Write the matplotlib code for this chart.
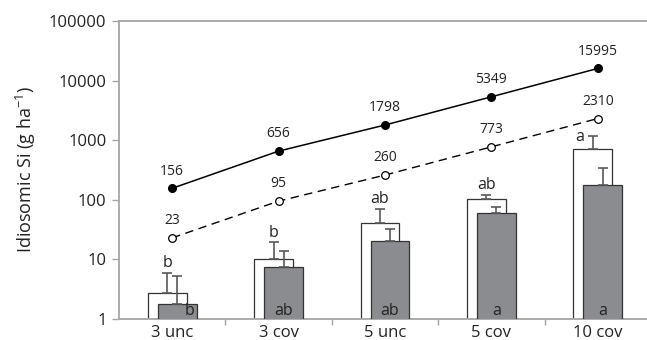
import matplotlib
matplotlib.use("Agg")
import matplotlib.pyplot as plt
import numpy as np

plt.rcParams['font.family'] = ['Open Sans', 'DejaVu Sans']

categories = ["3 unc", "3 cov", "5 unc", "5 cov", "10 cov"]
white_vals = [2.7, 10.1, 41, 105, 708]
white_err = [3.3, 9.4, 30, 17, 467]
gray_vals = [1.77, 7.4, 20.3, 60, 180]
gray_err = [3.5, 6.4, 11.6, 16, 164]
line_solid = [156, 656, 1798, 5349, 15995]
line_dashed = [23, 95, 260, 773, 2310]
white_letters = ["b", "b", "ab", "ab", "a"]
gray_letters = ["b", "ab", "ab", "a", "a"]
yticks = [1, 10, 100, 1000, 10000, 100000]

fig = plt.figure(figsize=(6.47, 3.40), dpi=100)
ax = fig.add_axes([119/647, 21/340, 532/647, 298/340])

x = np.arange(len(categories))
w = 0.365
off = 0.047
spine_c = '#a6a6a6'
err_c = '#595959'

ax.bar(x - off, white_vals, width=w, color='white', edgecolor='#333333', linewidth=0.9, zorder=2)
ax.errorbar(x - off, white_vals, yerr=[np.zeros(len(x)), white_err], fmt='none',
            ecolor=err_c, elinewidth=1.2, capsize=3.5, capthick=1.2, zorder=2.5)
ax.bar(x + off, gray_vals, width=w, color='#8b8c8f', edgecolor='#333333', linewidth=0.9, zorder=3)
ax.errorbar(x + off, gray_vals, yerr=[np.zeros(len(x)), gray_err], fmt='none',
            ecolor=err_c, elinewidth=1.2, capsize=3.5, capthick=1.2, zorder=3.5)

ax.plot(x, line_solid, '-', color='black', lw=1.1, marker='o', ms=5.5,
        mfc='black', mec='black', zorder=4)
ax.plot(x, line_dashed, '--', color='black', lw=1.0, dashes=(6, 4), marker='o', ms=5.5,
        mfc='white', mec='black', mew=0.9, zorder=4)

for xi, v in zip(x, line_solid):
    ax.annotate(str(v), (xi, v), xytext=(0, 7), textcoords='offset points',
                ha='center', va='bottom', fontsize=10, color='#222222')
for xi, v in zip(x, line_dashed):
    ax.annotate(str(v), (xi, v), xytext=(0, 7), textcoords='offset points',
                ha='center', va='bottom', fontsize=10, color='#222222')

for i, (xi, v, e, t) in enumerate(zip(x, white_vals, white_err, white_letters)):
    if i == len(x) - 1:
        ax.annotate(t, (xi - off, v + e), xytext=(-6, -1), textcoords='offset points',
                    ha='right', va='center', fontsize=11.5, color='#222222')
    else:
        ax.annotate(t, (xi - off, v + e), xytext=(0, 1), textcoords='offset points',
                    ha='center', va='bottom', fontsize=11.5, color='#222222')

for i, (xi, t) in enumerate(zip(x, gray_letters)):
    dx = 9 if i == 0 else 0
    ax.annotate(t, (xi + off, 1), xytext=(dx, 0), textcoords='offset points',
                ha='center', va='bottom', fontsize=11.5, color='#222222', zorder=5)

ax.set_yscale('log')
ax.set_ylim(1, 100000)
ax.set_xlim(-0.5, 4.5)
ax.set_yticks(yticks)
ax.set_yticklabels([str(t) for t in yticks])
ax.yaxis.set_minor_locator(matplotlib.ticker.NullLocator())

ax.set_xticks(np.arange(len(categories) - 1) + 0.5)
ax.set_xticklabels([])
ax.set_xticks(x, minor=True)
ax.set_xticklabels(categories, minor=True)
ax.tick_params(axis='x', which='minor', length=0, labelsize=12, labelcolor='#222222', pad=4)
ax.tick_params(axis='x', which='major', length=4, color=spine_c, width=1)
ax.tick_params(axis='y', length=5, color=spine_c, width=1, labelsize=12, labelcolor='#222222', pad=4)

for s in ['left', 'bottom', 'top']:
    ax.spines[s].set_color(spine_c)
    ax.spines[s].set_linewidth(1.3)
ax.spines['right'].set_visible(False)

ax.set_ylabel('Idiosomic Si (g ha$^{\\mathregular{-1}}$)', fontsize=13, color='#222222', labelpad=8)

fig.savefig('out.png', dpi=100)
